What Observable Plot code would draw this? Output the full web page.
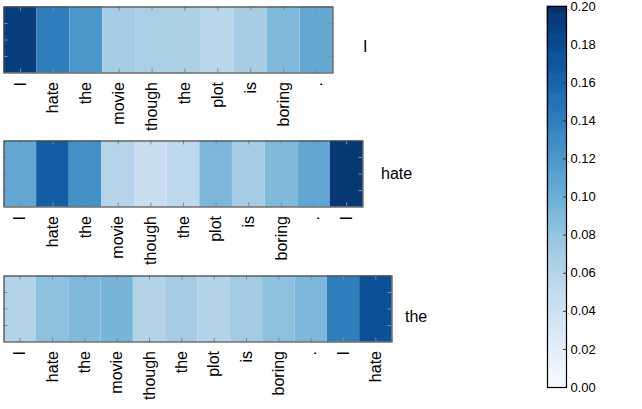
<!DOCTYPE html>
<html>
<head>
<meta charset="utf-8">
<script src="https://cdn.jsdelivr.net/npm/d3@7"></script>
<script src="https://cdn.jsdelivr.net/npm/@observablehq/plot@0.6"></script>
<style>
  html, body { margin: 0; padding: 0; background: #fff; }
  #wrap { position: relative; width: 642px; height: 409px; overflow: hidden; }
  #wrap > svg { position: absolute; }
</style>
</head>
<body>
<div id="wrap"></div>
<script>
// ---- data ----
const words1 = ["I", "hate", "the", "movie", "though", "the", "plot", "is", "boring", "."];
const values1 = [0.19, 0.14, 0.12, 0.07, 0.068, 0.066, 0.057, 0.069, 0.09, 0.105];

const words2 = ["I", "hate", "the", "movie", "though", "the", "plot", "is", "boring", ".", "I"];
const values2 = [0.105, 0.165, 0.125, 0.06, 0.045, 0.055, 0.092, 0.07, 0.09, 0.107, 0.195];

const words3 = ["I", "hate", "the", "movie", "though", "the", "plot", "is", "boring", ".", "I", "hate"];
const values3 = [0.062, 0.083, 0.09, 0.095, 0.062, 0.07, 0.062, 0.072, 0.083, 0.092, 0.14, 0.175];

const rowLabels = ["I", "hate", "the"];
const colorDomain = [0, 0.2];
const colorTicks = [0, 0.02, 0.04, 0.06, 0.08, 0.10, 0.12, 0.14, 0.16, 0.18, 0.20];

// ---- drawing ----
const wrap = document.getElementById("wrap");
const FONT = "'Liberation Sans', Arial, sans-serif";
const colorOpts = {type: "linear", scheme: "blues", domain: colorDomain};

function rowPlot(words, values, label, innerW, top, labelDx, labelDy) {
  const n = words.length;
  const data = words.map((w, i) => ({i, w, v: values[i]}));
  const innerH = 66;
  const mTop = 6.5, mLeft = 3.5, mRight = 80, mBottom = 70;
  const tickLen = 4 * n / innerW;
  const svg = Plot.plot({
    width: mLeft + innerW + mRight,
    height: mTop + innerH + mBottom,
    marginLeft: mLeft, marginRight: mRight, marginTop: mTop, marginBottom: mBottom,
    style: {fontFamily: FONT, fontSize: "16px", color: "#000", background: "transparent", overflow: "visible"},
    x: {domain: [0, n], axis: null},
    y: {domain: [0, 1], axis: null},
    color: colorOpts,
    marks: [
      Plot.rect(data, {x1: "i", x2: d => d.i + 1, y1: 0, y2: 1, fill: "v"}),
      Plot.ruleX(data, {x: d => d.i + 0.5, y1: 0, y2: 0.06, stroke: "#8a8a8a"}),
      Plot.ruleX(data, {x: d => d.i + 0.5, y1: 0.94, y2: 1, stroke: "#8a8a8a"}),
      Plot.ruleY([0.25, 0.5, 0.75], {x1: 0, x2: tickLen, stroke: "#8a8a8a"}),
      Plot.ruleY([0.25, 0.5, 0.75], {x1: n - tickLen, x2: n, stroke: "#8a8a8a"}),
      Plot.frame({stroke: "#4a4a4a", strokeWidth: 1.2}),
      Plot.axisX(data.map(d => d.i + 0.5), {
        tickSize: 0, tickPadding: 9, tickRotate: -90, fontSize: 16, label: null,
        tickFormat: d => words[Math.floor(d)]
      }),
      Plot.text([label], {x: n, y: 0.5, text: d => d, dx: labelDx, dy: labelDy, textAnchor: "start", fontSize: 16, fill: "#000"})
    ]
  });
  svg.style.left = "0px";
  svg.style.top = top + "px";
  wrap.appendChild(svg);
}

rowPlot(words1, values1, rowLabels[0], 329, 0, 30, 7);
rowPlot(words2, values2, rowLabels[1], 359, 134, 18, 0);
rowPlot(words3, values3, rowLabels[2], 388, 268.5, 13, 8);

// colorbar
const steps = d3.range(0, 200).map(k => k / 1000);
const cb = Plot.plot({
  width: 112, height: 409,
  marginLeft: 17, marginRight: 76, marginTop: 6, marginBottom: 22,
  style: {fontFamily: FONT, fontSize: "13px", color: "#000", background: "transparent", overflow: "visible"},
  x: {domain: [0, 1], axis: null},
  y: {domain: colorDomain},
  color: colorOpts,
  marks: [
    Plot.rect(steps, {x1: 0, x2: 1, y1: d => d, y2: d => d + 0.001, fill: d => d + 0.0005, inset: -0.3}),
    Plot.ruleY(colorTicks, {x1: 1 - 3 / 19, x2: 1, stroke: "#333"}),
    Plot.frame({stroke: "#000", strokeWidth: 1.2}),
    Plot.axisY(colorTicks, {anchor: "right", tickSize: 0, tickPadding: 4, fontSize: 13, tickFormat: d3.format(".2f"), label: null})
  ]
});
cb.style.left = "530px";
cb.style.top = "0px";
wrap.appendChild(cb);
</script>
</body>
</html>
